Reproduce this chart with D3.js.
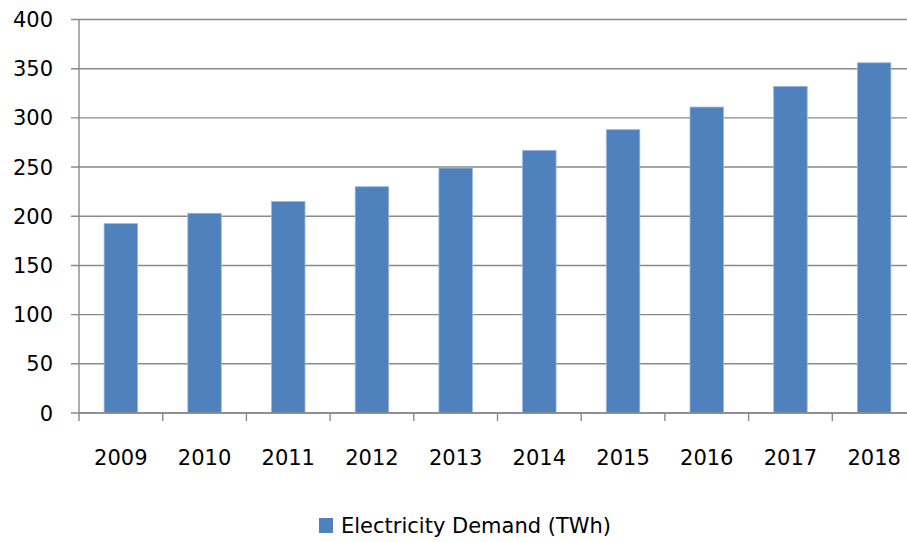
<!DOCTYPE html>
<html>
<head>
<meta charset="utf-8">
<style>
  body { margin: 0; background: #fff; }
  svg { display: block; font-family: "DejaVu Sans", sans-serif; }
</style>
</head>
<body>
<svg width="907" height="542"></svg>
<script src="https://d3js.org/d3.v7.min.js"></script>
<script>

// Data
var years = ["2009", "2010", "2011", "2012", "2013", "2014", "2015", "2016", "2017", "2018"];
var demand = [192.5, 203, 215, 230, 249, 267, 288, 311, 332, 356];
var yTicks = [0, 50, 100, 150, 200, 250, 300, 350, 400];
var seriesName = "Electricity Demand (TWh)";

var data = years.map(function(y, i) { return {year: y, value: demand[i]}; });

var svg = d3.select("svg"),
    plotLeft = 79, plotRight = 916, plotTop = 19.5, plotBottom = 413;

var axisColor = "#898989",
    barColor = "#4f81bd",
    fontSize = 21;

// band per category, bars take 40% of it
var x = d3.scaleBand()
    .domain(years)
    .range([plotLeft, plotRight])
    .padding(0);

var y = d3.scaleLinear()
    .domain([0, 400])
    .range([plotBottom, plotTop]);

var barW = x.bandwidth() * 0.4;

// Horizontal gridlines (with outward tick on the left)
svg.append("g")
  .selectAll("line")
  .data(yTicks)
  .join("line")
    .attr("x1", plotLeft - 8)
    .attr("x2", plotRight)
    .attr("y1", function(d) { return y(d); })
    .attr("y2", function(d) { return y(d); })
    .attr("stroke", axisColor)
    .attr("stroke-width", 1.4);

// Y labels
svg.append("g")
  .selectAll("text")
  .data(yTicks)
  .join("text")
    .attr("x", 53)
    .attr("y", function(d) { return y(d); })
    .attr("dy", "0.36em")
    .attr("text-anchor", "end")
    .attr("font-size", fontSize)
    .attr("fill", "#000")
    .text(function(d) { return d; });

// Vertical axis line
svg.append("line")
    .attr("x1", plotLeft).attr("x2", plotLeft)
    .attr("y1", plotTop).attr("y2", plotBottom)
    .attr("stroke", axisColor)
    .attr("stroke-width", 1.4);

// Bars
svg.append("g")
  .selectAll("rect")
  .data(data)
  .join("rect")
    .attr("x", function(d) { return x(d.year) + (x.bandwidth() - barW) / 2; })
    .attr("y", function(d) { return y(d.value); })
    .attr("width", barW)
    .attr("height", function(d) { return plotBottom - y(d.value); })
    .attr("fill", barColor)
    .attr("stroke", "#9bb7dc")
    .attr("stroke-width", 0.8);

// X axis baseline and category boundary ticks
svg.append("line")
    .attr("x1", plotLeft).attr("x2", plotRight)
    .attr("y1", plotBottom).attr("y2", plotBottom)
    .attr("stroke", axisColor)
    .attr("stroke-width", 1.4);

svg.append("g")
  .selectAll("line")
  .data(years.concat(["end"]))
  .join("line")
    .attr("x1", function(d, i) { return plotLeft + i * x.step(); })
    .attr("x2", function(d, i) { return plotLeft + i * x.step(); })
    .attr("y1", plotBottom)
    .attr("y2", plotBottom + 8)
    .attr("stroke", axisColor)
    .attr("stroke-width", 1.4);

// X labels
svg.append("g")
  .selectAll("text")
  .data(years)
  .join("text")
    .attr("x", function(d) { return x(d) + x.bandwidth() / 2; })
    .attr("y", 465)
    .attr("text-anchor", "middle")
    .attr("font-size", fontSize)
    .attr("fill", "#000")
    .text(function(d) { return d; });

// Legend
var legend = svg.append("g");
legend.append("rect")
    .attr("x", 319).attr("y", 518)
    .attr("width", 14).attr("height", 15)
    .attr("fill", barColor);
legend.append("text")
    .attr("x", 341)
    .attr("y", 533)
    .attr("font-size", fontSize)
    .attr("textLength", 270)
    .attr("lengthAdjust", "spacingAndGlyphs")
    .attr("fill", "#000")
    .text(seriesName);

</script>
</body>
</html>
